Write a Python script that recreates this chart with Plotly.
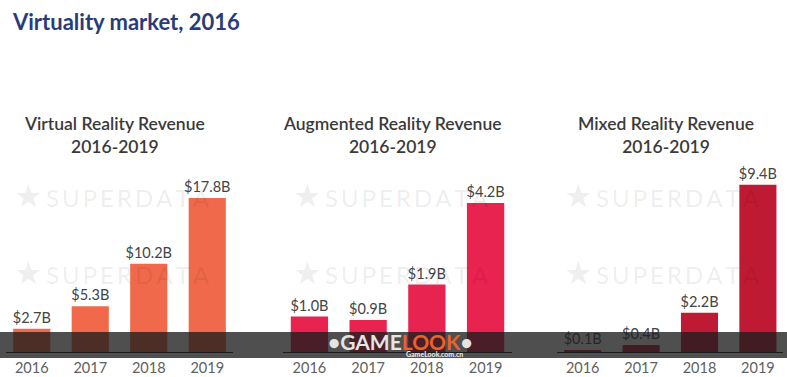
import plotly.graph_objects as go

years = ["2016", "2017", "2018", "2019"]
vr_values = [2.7, 5.3, 10.2, 17.8]
ar_values = [1.0, 0.9, 1.9, 4.2]
mr_values = [0.1, 0.4, 2.2, 9.4]
panel_titles = ["Virtual Reality Revenue<br>2016-2019",
                "Augmented Reality Revenue<br>2016-2019",
                "Mixed Reality Revenue<br>2016-2019"]
colors = ["#F0694A", "#E82350", "#BE1A33"]

W, H = 787, 377
TOP, BOT = 180, 352  # plot area in px

def px(x):
    return x / W

def py(y):
    return (BOT - y) / (BOT - TOP)

series = [vr_values, ar_values, mr_values]
domains = [(6, 233), (283, 512), (557, 783)]
xranges = [(-0.44, 3.44), (-0.45, 3.45), (-0.44, 3.43)]
yranges = [19.88, 4.845, 9.66]
title_x = [114.5, 392, 665.5]
star_x = [12, 291, 562]

TS = "\u2009"
wm_text = "<span style='font-size:32px'>★</span>" + TS + TS.join("SUPERDATA")

fig = go.Figure()
for i, vals in enumerate(series):
    n = "" if i == 0 else str(i + 1)
    fig.add_trace(go.Bar(
        x=years, y=vals, xaxis="x" + n, yaxis="y" + n,
        marker=dict(color=colors[i], line=dict(width=0)),
        width=0.635,
        text=["$%.1fB" % v for v in vals],
        textposition="outside", cliponaxis=False, constraintext="none",
        textfont=dict(family="Lato", size=14.5, color="#444444"),
        showlegend=False, hoverinfo="skip",
    ))
    d = domains[i]
    fig.update_layout(**{
        "xaxis" + n: dict(domain=[px(d[0]), px(d[1])], range=list(xranges[i]),
                          type="category", showline=True, linecolor="#111111", linewidth=1,
                          showgrid=False, zeroline=False, ticks="", fixedrange=True,
                          ticklabelstandoff=3,
                          tickfont=dict(family="Lato", size=14.5, color="#606060"),
                          anchor="y" + n),
        "yaxis" + n: dict(range=[0, yranges[i]], visible=False, showgrid=False,
                          anchor="x" + n, domain=[0, 1], fixedrange=True),
    })

annotations = []
for i in range(3):
    annotations.append(dict(
        text=panel_titles[i], xref="paper", yref="paper",
        x=px(title_x[i]), y=py(111), xanchor="center", yanchor="top",
        showarrow=False, align="center",
        font=dict(family="Lato", size=17.5, color="#3a3a3a", weight=600)))
    for ry in (194, 271):
        annotations.append(dict(
            text=wm_text, xref="paper", yref="paper",
            x=px(star_x[i]), y=py(ry), xanchor="left", yanchor="middle",
            showarrow=False,
            font=dict(family="Lato", size=24, color="rgba(0,0,0,0.085)")))

annotations.append(dict(
    text="<b>•GAME<span style='color:#E8632A'>LOOK</span>•</b>",
    xref="paper", yref="paper", x=px(400), y=py(341.5), xanchor="center", yanchor="middle",
    showarrow=False, font=dict(family="Lato", size=21, color="#E4E4E4")))
annotations.append(dict(
    text="<b>GameLook.com.cn</b>",
    xref="paper", yref="paper", x=px(434), y=py(354), xanchor="center", yanchor="middle",
    showarrow=False, font=dict(family="Lato", size=7, color="#F0F0F0")))

shapes = [dict(type="rect", xref="paper", yref="paper", x0=0, x1=1,
               y0=py(358), y1=py(332), fillcolor="rgba(30,30,30,0.78)",
               line=dict(width=0), layer="above")]

fig.update_layout(
    width=W, height=H,
    margin=dict(l=0, r=0, t=TOP, b=H - BOT),
    paper_bgcolor="white", plot_bgcolor="white",
    title=dict(text="<b>Virtuality market, 2016</b>", x=px(13), xanchor="left",
               xref="paper", y=1 - 22 / H, yanchor="middle", yref="container",
               font=dict(family="Lato", size=22, color="#2A3C78")),
    annotations=annotations, shapes=shapes,
    bargap=0.37,
)

fig.write_html("out.html", config={"displayModeBar": False},
               post_script="document.body.style.margin='0';document.body.style.overflow='hidden';")
